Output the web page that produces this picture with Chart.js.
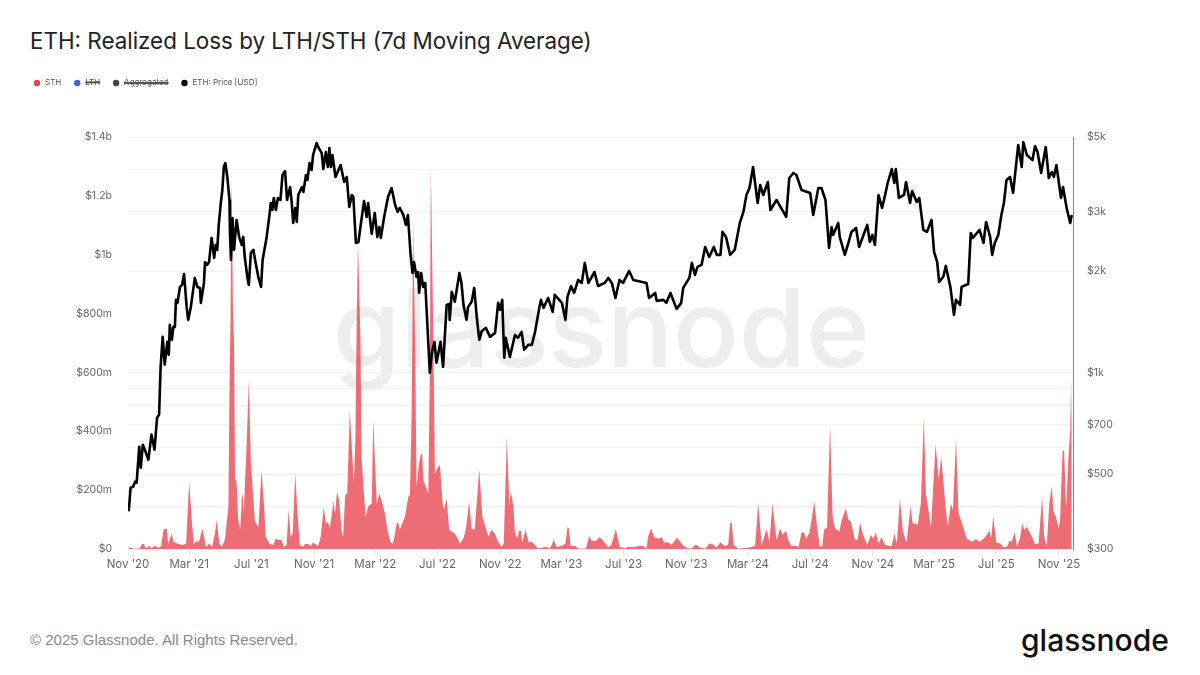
<!DOCTYPE html>
<html>
<head>
<meta charset="utf-8">
<title>ETH: Realized Loss by LTH/STH</title>
<script src="https://cdn.jsdelivr.net/npm/chart.js@4/dist/chart.umd.min.js"></script>
<style>
  html, body { margin: 0; padding: 0; background: #fff; }
  #page { position: relative; width: 1200px; height: 675px; overflow: hidden; font-family: 'Inter', sans-serif; }
  #chart { position: absolute; left: 0; top: 0; z-index: 1; }
  #title { position: absolute; left: 30px; top: 27px; font-size: 22.4px; color: #222; white-space: nowrap; }
  #watermark { position: absolute; left: 333px; top: 262px; font-size: 109px; font-weight: 500; line-height: 130px; color: #ededed; z-index: 0; white-space: nowrap; }
  #copy { position: absolute; left: 30px; top: 631px; font-family: 'Liberation Sans', sans-serif; font-size: 15px; color: #8a8a8a; white-space: nowrap; }
  #logo { position: absolute; left: 1021px; top: 622px; font-size: 30px; font-weight: 450; color: #111; white-space: nowrap; }
</style>
</head>
<body>
<div id="page">
  <div id="title">ETH: Realized Loss by LTH/STH (7d Moving Average)</div>
  <div id="watermark">glassnode</div>
  <canvas id="chart" width="1200" height="675"></canvas>
  <div id="copy">© 2025 Glassnode. All Rights Reserved.</div>
  <div id="logo">glassnode</div>
</div>
<script>
// ===== DATA (x values are days since 1 Nov 2020) =====
const monthDays = [0, 120, 242, 365, 485, 607, 730, 850, 972, 1095, 1216, 1338, 1461, 1581, 1703, 1826];
const monthLabels = ["Nov '20", "Mar '21", "Jul '21", "Nov '21", "Mar '22", "Jul '22", "Nov '22", "Mar '23", "Jul '23", "Nov '23", "Mar '24", "Jul '24", "Nov '24", "Mar '25", "Jul '25", "Nov '25"];

const lossTicks = [0, 200, 400, 600, 800, 1000, 1200, 1400];
const lossTickLabels = ['$0', '$200m', '$400m', '$600m', '$800m', '$1b', '$1.2b', '$1.4b'];

const priceTicks = [300, 400, 500, 600, 700, 800, 900, 1000, 2000, 3000, 4000, 5000];
const priceTickLabels = ['$300', '', '$500', '', '$700', '', '', '$1k', '$2k', '$3k', '', '$5k'];

const seriesNames = ['STH', 'LTH', 'Aggregated', 'ETH: Price [USD]'];
const seriesDots = ['#ec3f4a', '#3f63e0', '#444444', '#000000'];

// STH realized loss, $m
const lossDays = [
  1, 10, 23, 27, 31, 35, 42, 46, 54, 59,
  65, 70, 76, 79, 86, 89, 99, 108, 114, 120,
  125, 129, 135, 139, 146, 153, 159, 165, 171, 174,
  179, 184, 190, 197, 199, 201, 203, 206, 208, 210,
  213, 216, 220, 223, 225, 227, 233, 237, 241, 246,
  249, 256, 259, 262, 267, 270, 278, 285, 290, 295,
  301, 306, 311, 315, 319, 323, 328, 332, 337, 344,
  347, 354, 358, 363, 373, 378, 384, 388, 392, 396,
  403, 406, 410, 414, 419, 422, 426, 430, 435, 440,
  443, 446, 448, 451, 456, 458, 461, 466, 471, 478,
  481, 484, 488, 493, 497, 504, 509, 515, 520, 527,
  530, 533, 543, 550, 553, 556, 558, 559, 563, 566,
  571, 574, 577, 579, 584, 589, 592, 594, 599, 602,
  609, 612, 617, 620, 625, 630, 635, 641, 648, 651,
  658, 663, 669, 674, 680, 689, 695, 707, 713, 720,
  726, 733, 737, 743, 748, 751, 756, 759, 764, 767,
  771, 773, 780, 786, 792, 805, 820, 828, 835, 841,
  850, 858, 862, 865, 868, 878, 883, 898, 905, 909,
  918, 924, 929, 942, 948, 957, 964, 975, 981, 991,
  1001, 1011, 1017, 1020, 1026, 1032, 1041, 1047, 1051, 1060,
  1066, 1077, 1088, 1096, 1105, 1114, 1122, 1133, 1140, 1148,
  1154, 1162, 1171, 1177, 1181, 1184, 1188, 1197, 1213, 1230,
  1236, 1243, 1249, 1253, 1258, 1264, 1272, 1279, 1284, 1291,
  1295, 1301, 1312, 1315, 1321, 1326, 1330, 1337, 1346, 1351,
  1357, 1362, 1365, 1371, 1377, 1382, 1387, 1395, 1400, 1408,
  1413, 1418, 1426, 1431, 1436, 1441, 1450, 1457, 1462, 1467,
  1472, 1478, 1485, 1498, 1503, 1508, 1514, 1520, 1527, 1535,
  1539, 1544, 1549, 1555, 1561, 1565, 1575, 1584, 1590, 1595,
  1603, 1608, 1614, 1618, 1624, 1629, 1635, 1645, 1655, 1663,
  1671, 1681, 1690, 1693, 1697, 1703, 1711, 1717, 1724, 1729,
  1733, 1739, 1744, 1750, 1754, 1758, 1763, 1773, 1779, 1786,
  1793, 1797, 1802, 1807, 1812, 1815, 1820, 1825, 1828, 1833,
  1836, 1840, 1845, 1848, 1850, 1851
];
const lossValues = [
  6, 2, 2, 17, 17, 3, 10, 3, 11, 3,
  10, 68, 68, 17, 53, 25, 17, 14, 19, 229,
  99, 17, 27, 23, 70, 6, 19, 8, 59, 99,
  19, 8, 31, 144, 540, 770, 1270, 800, 710, 235,
  229, 99, 65, 167, 189, 121, 370, 574, 291, 167,
  93, 76, 178, 268, 144, 42, 17, 14, 36, 31,
  31, 6, 14, 133, 42, 53, 257, 133, 14, 8,
  17, 17, 10, 22, 10, 42, 144, 87, 93, 70,
  161, 121, 195, 167, 59, 42, 184, 189, 472, 314,
  229, 370, 700, 1050, 710, 314, 235, 110, 144, 155,
  438, 314, 155, 189, 167, 121, 65, 22, 19, 87,
  90, 65, 110, 178, 184, 427, 767, 1125, 710, 212,
  291, 320, 325, 235, 212, 189, 597, 1305, 710, 257,
  280, 285, 155, 133, 172, 65, 59, 53, 31, 19,
  36, 70, 161, 70, 65, 271, 110, 42, 65, 51,
  25, 8, 19, 382, 150, 195, 144, 53, 36, 62,
  62, 22, 65, 22, 25, 2, 8, 2, 31, 8,
  10, 19, 74, 70, 10, 10, 2, 2, 44, 28,
  28, 40, 34, 6, 14, 68, 8, 2, 8, 6,
  10, 10, 2, 42, 70, 40, 35, 40, 22, 23,
  14, 39, 14, 3, 2, 15, 5, 2, 19, 15,
  5, 23, 10, 14, 87, 91, 14, 2, 3, 10,
  157, 14, 48, 68, 22, 155, 31, 70, 48, 62,
  31, 10, 10, 6, 56, 56, 36, 56, 161, 82,
  8, 10, 65, 73, 421, 110, 70, 59, 99, 138,
  99, 93, 31, 31, 90, 53, 14, 48, 36, 56,
  19, 40, 14, 10, 53, 19, 172, 59, 22, 144,
  87, 87, 82, 155, 448, 189, 76, 357, 235, 314,
  155, 76, 155, 133, 374, 121, 93, 36, 25, 33,
  25, 40, 62, 36, 110, 22, 19, 6, 8, 28,
  25, 56, 8, 42, 87, 65, 76, 42, 17, 19,
  178, 42, 10, 155, 214, 127, 110, 70, 93, 331,
  336, 138, 325, 404, 581, 430
];

// ETH price, USD
const priceDays = [
  1, 2, 5, 10, 14, 17, 22, 25, 29, 33,
  40, 46, 52, 57, 61, 64, 68, 72, 77, 80,
  82, 86, 89, 92, 94, 97, 102, 106, 110, 115,
  118, 123, 131, 136, 141, 143, 149, 151, 155, 159,
  164, 169, 172, 175, 178, 182, 185, 188, 191, 195,
  199, 200, 202, 205, 208, 213, 218, 223, 226, 229,
  234, 237, 241, 246, 250, 256, 261, 264, 272, 277,
  280, 283, 286, 290, 294, 299, 303, 308, 312, 318,
  321, 324, 328, 331, 334, 341, 344, 349, 352, 356,
  360, 363, 370, 373, 380, 383, 388, 392, 395, 398,
  401, 407, 417, 424, 429, 434, 439, 442, 447, 452,
  457, 463, 468, 471, 478, 484, 489, 493, 496, 502,
  510, 517, 524, 529, 533, 540, 545, 549, 554, 558,
  561, 566, 569, 571, 575, 579, 583, 589, 592, 596,
  601, 605, 613, 618, 625, 630, 631, 635, 641, 650,
  654, 658, 664, 667, 674, 679, 684, 689, 694, 702,
  710, 720, 726, 730, 734, 738, 741, 749, 759, 765,
  772, 777, 785, 792, 798, 807, 810, 815, 824, 833,
  837, 851, 858, 862, 869, 875, 883, 890, 896, 903,
  915, 922, 935, 942, 949, 956, 964, 971, 983, 991,
  1017, 1022, 1034, 1037, 1050, 1056, 1064, 1076, 1085, 1089,
  1101, 1106, 1112, 1117, 1125, 1132, 1140, 1149, 1155, 1162,
  1166, 1173, 1181, 1190, 1200, 1207, 1213, 1219, 1226, 1235,
  1240, 1246, 1255, 1260, 1272, 1291, 1297, 1305, 1311, 1321,
  1338, 1344, 1354, 1360, 1368, 1375, 1380, 1383, 1393, 1396,
  1406, 1413, 1419, 1428, 1434, 1444, 1450, 1455, 1460, 1465,
  1472, 1479, 1485, 1490, 1498, 1503, 1506, 1512, 1522, 1526,
  1534, 1538, 1547, 1552, 1560, 1567, 1576, 1581, 1587, 1591,
  1599, 1604, 1613, 1620, 1624, 1632, 1635, 1648, 1653, 1657,
  1670, 1678, 1683, 1691, 1695, 1700, 1707, 1713, 1718, 1723,
  1730, 1736, 1746, 1753, 1756, 1763, 1774, 1779, 1784, 1791,
  1800, 1806, 1812, 1816, 1821, 1830, 1834, 1841, 1848, 1851
];
const priceValues = [
  388, 397, 456, 459, 475, 472, 603, 522, 611, 591,
  552, 655, 591, 735, 751, 1041, 1277, 1056, 1234, 1130,
  1386, 1251, 1367, 1367, 1644, 1611, 1796, 1821, 1962, 1567,
  1434, 1557, 1910, 1796, 1784, 1611, 1846, 2130, 2087, 2130,
  2510, 2189, 2393, 2312, 2743, 3186, 3482, 4074, 4184, 3779,
  3252, 2597, 2159, 2876, 2312, 2838, 2527, 2393, 2527, 2204,
  1923, 1821, 2265, 2312, 2130, 1910, 1796, 2159, 2527, 2896,
  3186, 3038, 3297, 3038, 3297, 3252, 3858, 3964, 3252, 3554,
  3208, 2780, 3080, 2799, 3365, 3554, 3435, 3858, 3728, 4184,
  3991, 4419, 4800, 4670, 4480, 4018, 4511, 4074, 4638, 4074,
  4419, 3805, 4127, 3677, 3805, 3101, 3365, 3320, 2425, 2442,
  2780, 3230, 2896, 3186, 2579, 2977, 2527, 2705, 2510, 2876,
  3320, 3530, 3143, 2997, 3080, 2936, 2743, 2936, 2265, 1976,
  2130, 1923, 1989, 1724, 1976, 1796, 1846, 1226, 1000, 1147,
  1234, 1071, 1234, 1041, 1589, 1600, 1434, 1736, 1622, 1976,
  1846, 1589, 1434, 1567, 1622, 1784, 1464, 1251, 1330, 1358,
  1277, 1312, 1611, 1536, 1644, 1107, 1268, 1114, 1294, 1268,
  1321, 1170, 1209, 1209, 1312, 1567, 1644, 1557, 1666, 1515,
  1701, 1611, 1434, 1678, 1808, 1724, 1884, 1846, 2116, 1846,
  1989, 1808, 1846, 1910, 1846, 1666, 1884, 1846, 2003, 1884,
  1846, 1666, 1724, 1633, 1644, 1611, 1724, 1546, 1611, 1784,
  1910, 2116, 1949, 2059, 2087, 2360, 2204, 2360, 2235, 2235,
  2615, 2527, 2235, 2312, 2780, 2997, 3365, 3530, 4074, 3186,
  3603, 3365, 3677, 3038, 3252, 2896, 3779, 3911, 3858, 3482,
  3411, 2936, 3530, 3530, 3252, 2344, 2705, 2562, 2780, 2527,
  2235, 2425, 2615, 2687, 2360, 2597, 2743, 2442, 2562, 2393,
  3365, 3080, 3365, 3652, 4018, 3652, 4018, 3297, 3365, 3677,
  3186, 3458, 3208, 3297, 2650, 2615, 2838, 2281, 2130, 1858,
  1923, 2073, 1796, 1485, 1644, 1589, 1796, 1833, 2597, 2510,
  2650, 2425, 2799, 2527, 2235, 2425, 2562, 2936, 3186, 3728,
  3805, 3411, 4733, 4074, 4833, 4419, 4270, 4701, 4511, 3911,
  4670, 3779, 3937, 3805, 4127, 3297, 3554, 3080, 2780, 2936
];

// ===== CHART =====
function toPoints(days, values) {
  return days.map(function (day, i) {
    return { x: day, y: values[i] };
  });
}

const tickColor = '#666666';
const xTickFont = { family: "'Inter', sans-serif", size: 11.5 };
const yTickFont = { family: "'Inter', sans-serif", size: 10.5 };

// legend block is taller than its own labels, reserves the gap above the plot
const legendSpace = {
  id: 'legendSpace',
  beforeLayout: function (chart) {
    const legend = chart.legend;
    if (legend.spacePatched) return;
    const fit = legend.fit;
    legend.fit = function () {
      fit.call(legend);
      legend.height = 70;
    };
    legend.spacePatched = true;
  }
};

new Chart(document.getElementById('chart'), {
  type: 'line',
  plugins: [legendSpace],
  data: {
    datasets: [
      {
        label: seriesNames[0],
        data: toPoints(lossDays, lossValues),
        yAxisID: 'yLoss',
        borderWidth: 0,
        backgroundColor: 'rgba(234, 72, 82, 0.8)',
        fill: 'origin',
        order: 2
      },
      { label: seriesNames[1], data: [], yAxisID: 'yLoss', hidden: true, order: 3 },
      { label: seriesNames[2], data: [], yAxisID: 'yLoss', hidden: true, order: 4 },
      {
        label: seriesNames[3],
        data: toPoints(priceDays, priceValues),
        yAxisID: 'yPrice',
        borderColor: '#000000',
        borderWidth: 2.6,
        borderJoinStyle: 'round',
        fill: false,
        order: 1
      }
    ]
  },
  options: {
    responsive: false,
    animation: false,
    layout: { padding: { left: 21, right: 0, top: 67, bottom: 96 } },
    elements: { point: { radius: 0 }, line: { tension: 0 } },
    plugins: {
      tooltip: { enabled: false },
      title: { display: false },
      legend: {
        position: 'top',
        align: 'start',
        onClick: null,
        labels: {
          usePointStyle: true,
          pointStyle: 'circle',
          boxHeight: 4.5,
          padding: 12,
          color: '#555555',
          font: { family: "'Inter', sans-serif", size: 8 },
          sort: function (a, b) { return a.datasetIndex - b.datasetIndex; },
          generateLabels: function (chart) {
            const items = Chart.defaults.plugins.legend.labels.generateLabels(chart);
            items.forEach(function (item) {
              item.fillStyle = seriesDots[item.datasetIndex];
              item.strokeStyle = seriesDots[item.datasetIndex];
              item.lineWidth = 0;
              item.pointStyle = 'circle';
            });
            return items;
          }
        }
      }
    },
    scales: {
      x: {
        type: 'linear',
        min: 0,
        max: 1853.5,
        afterFit: function (scale) { scale.height = 30; },
        afterBuildTicks: function (scale) {
          scale.ticks = monthDays.map(function (day) { return { value: day }; });
        },
        grid: { drawOnChartArea: false, drawTicks: true, tickLength: 6, tickColor: '#e8e8e8' },
        border: { display: false },
        ticks: {
          color: tickColor,
          font: xTickFont,
          maxRotation: 0,
          autoSkip: false,
          padding: 3,
          callback: function (value) {
            return monthLabels[monthDays.indexOf(value)];
          }
        }
      },
      yLoss: {
        type: 'linear',
        position: 'left',
        min: 0,
        max: 1400,
        afterFit: function (scale) { scale.width = 107; },
        afterBuildTicks: function (scale) {
          scale.ticks = lossTicks.map(function (v) { return { value: v }; });
        },
        grid: { display: false },
        border: { display: false },
        ticks: {
          color: tickColor,
          font: yTickFont,
          padding: 8,
          callback: function (value) {
            return lossTickLabels[lossTicks.indexOf(value)];
          }
        }
      },
      yPrice: {
        type: 'logarithmic',
        position: 'right',
        min: 300,
        max: 5000,
        afterFit: function (scale) { scale.width = 127; },
        afterBuildTicks: function (scale) {
          scale.ticks = priceTicks.map(function (v) { return { value: v }; });
        },
        grid: { color: '#f1f1f1', lineWidth: 1, drawTicks: false },
        border: { display: true, color: '#888888', width: 1 },
        ticks: {
          color: tickColor,
          font: yTickFont,
          padding: 14,
          autoSkip: false,
          callback: function (value) {
            return priceTickLabels[priceTicks.indexOf(value)];
          }
        }
      }
    }
  }
});
</script>
</body>
</html>
